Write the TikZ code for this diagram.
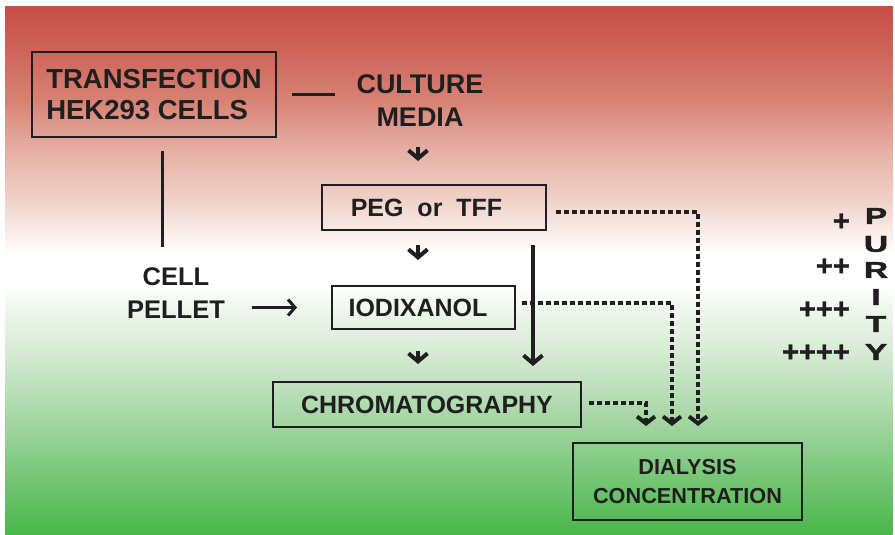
\documentclass[tikz,border=0pt]{standalone}
\usepackage{fontspec}
\setmainfont{Liberation Sans}
\newfontfamily\heavyfont{Liberation Sans}[UprightFont={* Bold}, FakeBold=1.5]
\usetikzlibrary{arrows.meta,positioning,calc}
\definecolor{Ink}{HTML}{1F1F1F}
\definecolor{TopRed}{HTML}{C64E46}
\definecolor{BotGreen}{HTML}{48B648}
\pgfdeclareverticalshading{bgfade}{884bp}{color(0bp)=(BotGreen);
 color(34.9bp)=(rgb,255:red,100;green,192;blue,100); color(84.7bp)=(rgb,255:red,140;green,205;blue,140);
 color(134.5bp)=(rgb,255:red,180;green,220;blue,178); color(184.3bp)=(rgb,255:red,215;green,235;blue,212);
 color(224.2bp)=(rgb,255:red,238;green,247;blue,236); color(250bp)=(white); color(280bp)=(white);
 color(333.7bp)=(rgb,255:red,240;green,210;blue,200); color(383.6bp)=(rgb,255:red,230;green,175;blue,165);
 color(433.4bp)=(rgb,255:red,215;green,130;blue,115); color(483.2bp)=(rgb,255:red,205;green,100;blue,90);
 color(528bp)=(TopRed)}
\tikzset{
 stepbox/.style={draw=Ink, line width=2pt, inner sep=0pt, align=center, text=Ink, font=\bfseries\fontsize{25}{31}\selectfont},
 plain/.style={inner sep=0pt, align=center, text=Ink, font=\bfseries\fontsize{27}{33}\selectfont},
 link/.style={draw=Ink, line width=3pt},
 shortarrow/.style={draw=Ink, line width=3.5pt, -{Straight Barb[length=8pt,width=19pt,line width=4pt]}},
 thinarrow/.style={draw=Ink, line width=2.5pt, -{Straight Barb[length=7pt,width=16pt,line width=3pt]}},
 dotlink/.style={draw=Ink, line width=4pt, dash pattern=on 4.5pt off 3.5pt, -{Straight Barb[length=7pt,width=18pt,line width=4pt]}},
 purity/.style={inner sep=0pt, text=Ink, font=\heavyfont\fontsize{23}{23}\selectfont},
 plus/.style={inner sep=0pt, anchor=east, text=Ink, font=\heavyfont\fontsize{29}{29}\selectfont}
}
\begin{document}
\begin{tikzpicture}[x=1pt,y=-1pt]
\useasboundingbox (0,0) rectangle (895,535);
% background
\node[inner sep=0pt, anchor=north west] (bg) at (5,5) {\pgfuseshading{bgfade}};

% steps
\node[stepbox, align=left, minimum width=244pt, minimum height=85pt, font=\bfseries\fontsize{27.5}{31}\selectfont] (tf) at (154,94.5) {TRANSFECTION\\HEK293 CELLS};
\node[plain] (culture) at (420,100.5) {CULTURE\\MEDIA};
\node[plain, font=\bfseries\fontsize{25.5}{33}\selectfont] (pellet) at (176,293.5) {CELL\\PELLET};
\node[stepbox, minimum width=224pt, minimum height=45pt] (peg) at (434,207.5) {PEG\ \ or\ \ TFF\hspace*{15pt}};
\node[stepbox, minimum width=183pt, minimum height=43pt] (iodix) at (423.5,307.5) {IODIXANOL\hspace*{11pt}};
\node[stepbox, minimum width=308pt, minimum height=45pt] (chrom) at (427,404.5) {CHROMATOGRAPHY};
\node[stepbox, minimum width=229pt, minimum height=77pt, font=\bfseries\fontsize{21.7}{29}\selectfont] (dial) at (687.5,481.5) {DIALYSIS\\CONCENTRATION};

% connectors
\draw[link, shorten <=15pt, shorten >=21pt] (tf.east) -- (tf.east -| culture.west);
\draw[link, shorten <=13pt, shorten >=21pt] ([xshift=8pt]tf.south) -- ([xshift=8pt]tf.south |- pellet.north);
\draw[thinarrow, shorten <=27pt, shorten >=34pt] (pellet.east |- iodix.west) -- (iodix.west);
\draw[shortarrow, shorten <=20pt, shorten >=23pt] ([xshift=-2pt]culture.south) -- ([xshift=-2pt]culture.south |- peg.north);
\draw[shortarrow, shorten <=14pt, shorten >=25pt] ([xshift=-16pt]peg.south) -- ([xshift=-16pt]peg.south |- iodix.north);
\draw[shortarrow, shorten <=21pt, shorten >=17pt] ([xshift=-5.5pt]iodix.south) -- ([xshift=-5.5pt]iodix.south |- chrom.north);
\draw[shortarrow, shorten <=14pt, shorten >=15pt] ([xshift=-14pt]peg.south east) -- ([xshift=-14pt]peg.south east |- chrom.north);

% dotted routes to dialysis
\draw[dotlink, shorten <=9pt] ([yshift=-4.5pt]peg.east) -| ([xshift=10.5pt,yshift=16pt]dial.north);
\draw[dotlink, shorten <=6pt] ([yshift=4.5pt]iodix.east) -| ([xshift=-15.5pt,yshift=16pt]dial.north);
\draw[dotlink, shorten <=7pt] ([yshift=1.5pt]chrom.east) -| ([xshift=-41.5pt,yshift=16pt]dial.north);

% purity scale
\foreach \ch/\y in {P/216,U/244,R/270,I/297,T/324,Y/352}
 \node[purity] (pur\ch) at (876,\y) {\scalebox{1.45}[1]{\ch}};
\node[plus] (plusA) at (850,222) {+};
\node[plus] (plusB) at (850,267) {++};
\node[plus] (plusC) at (850,310) {+++};
\node[plus] (plusD) at (850,353) {++++};
\end{tikzpicture}
\end{document}
